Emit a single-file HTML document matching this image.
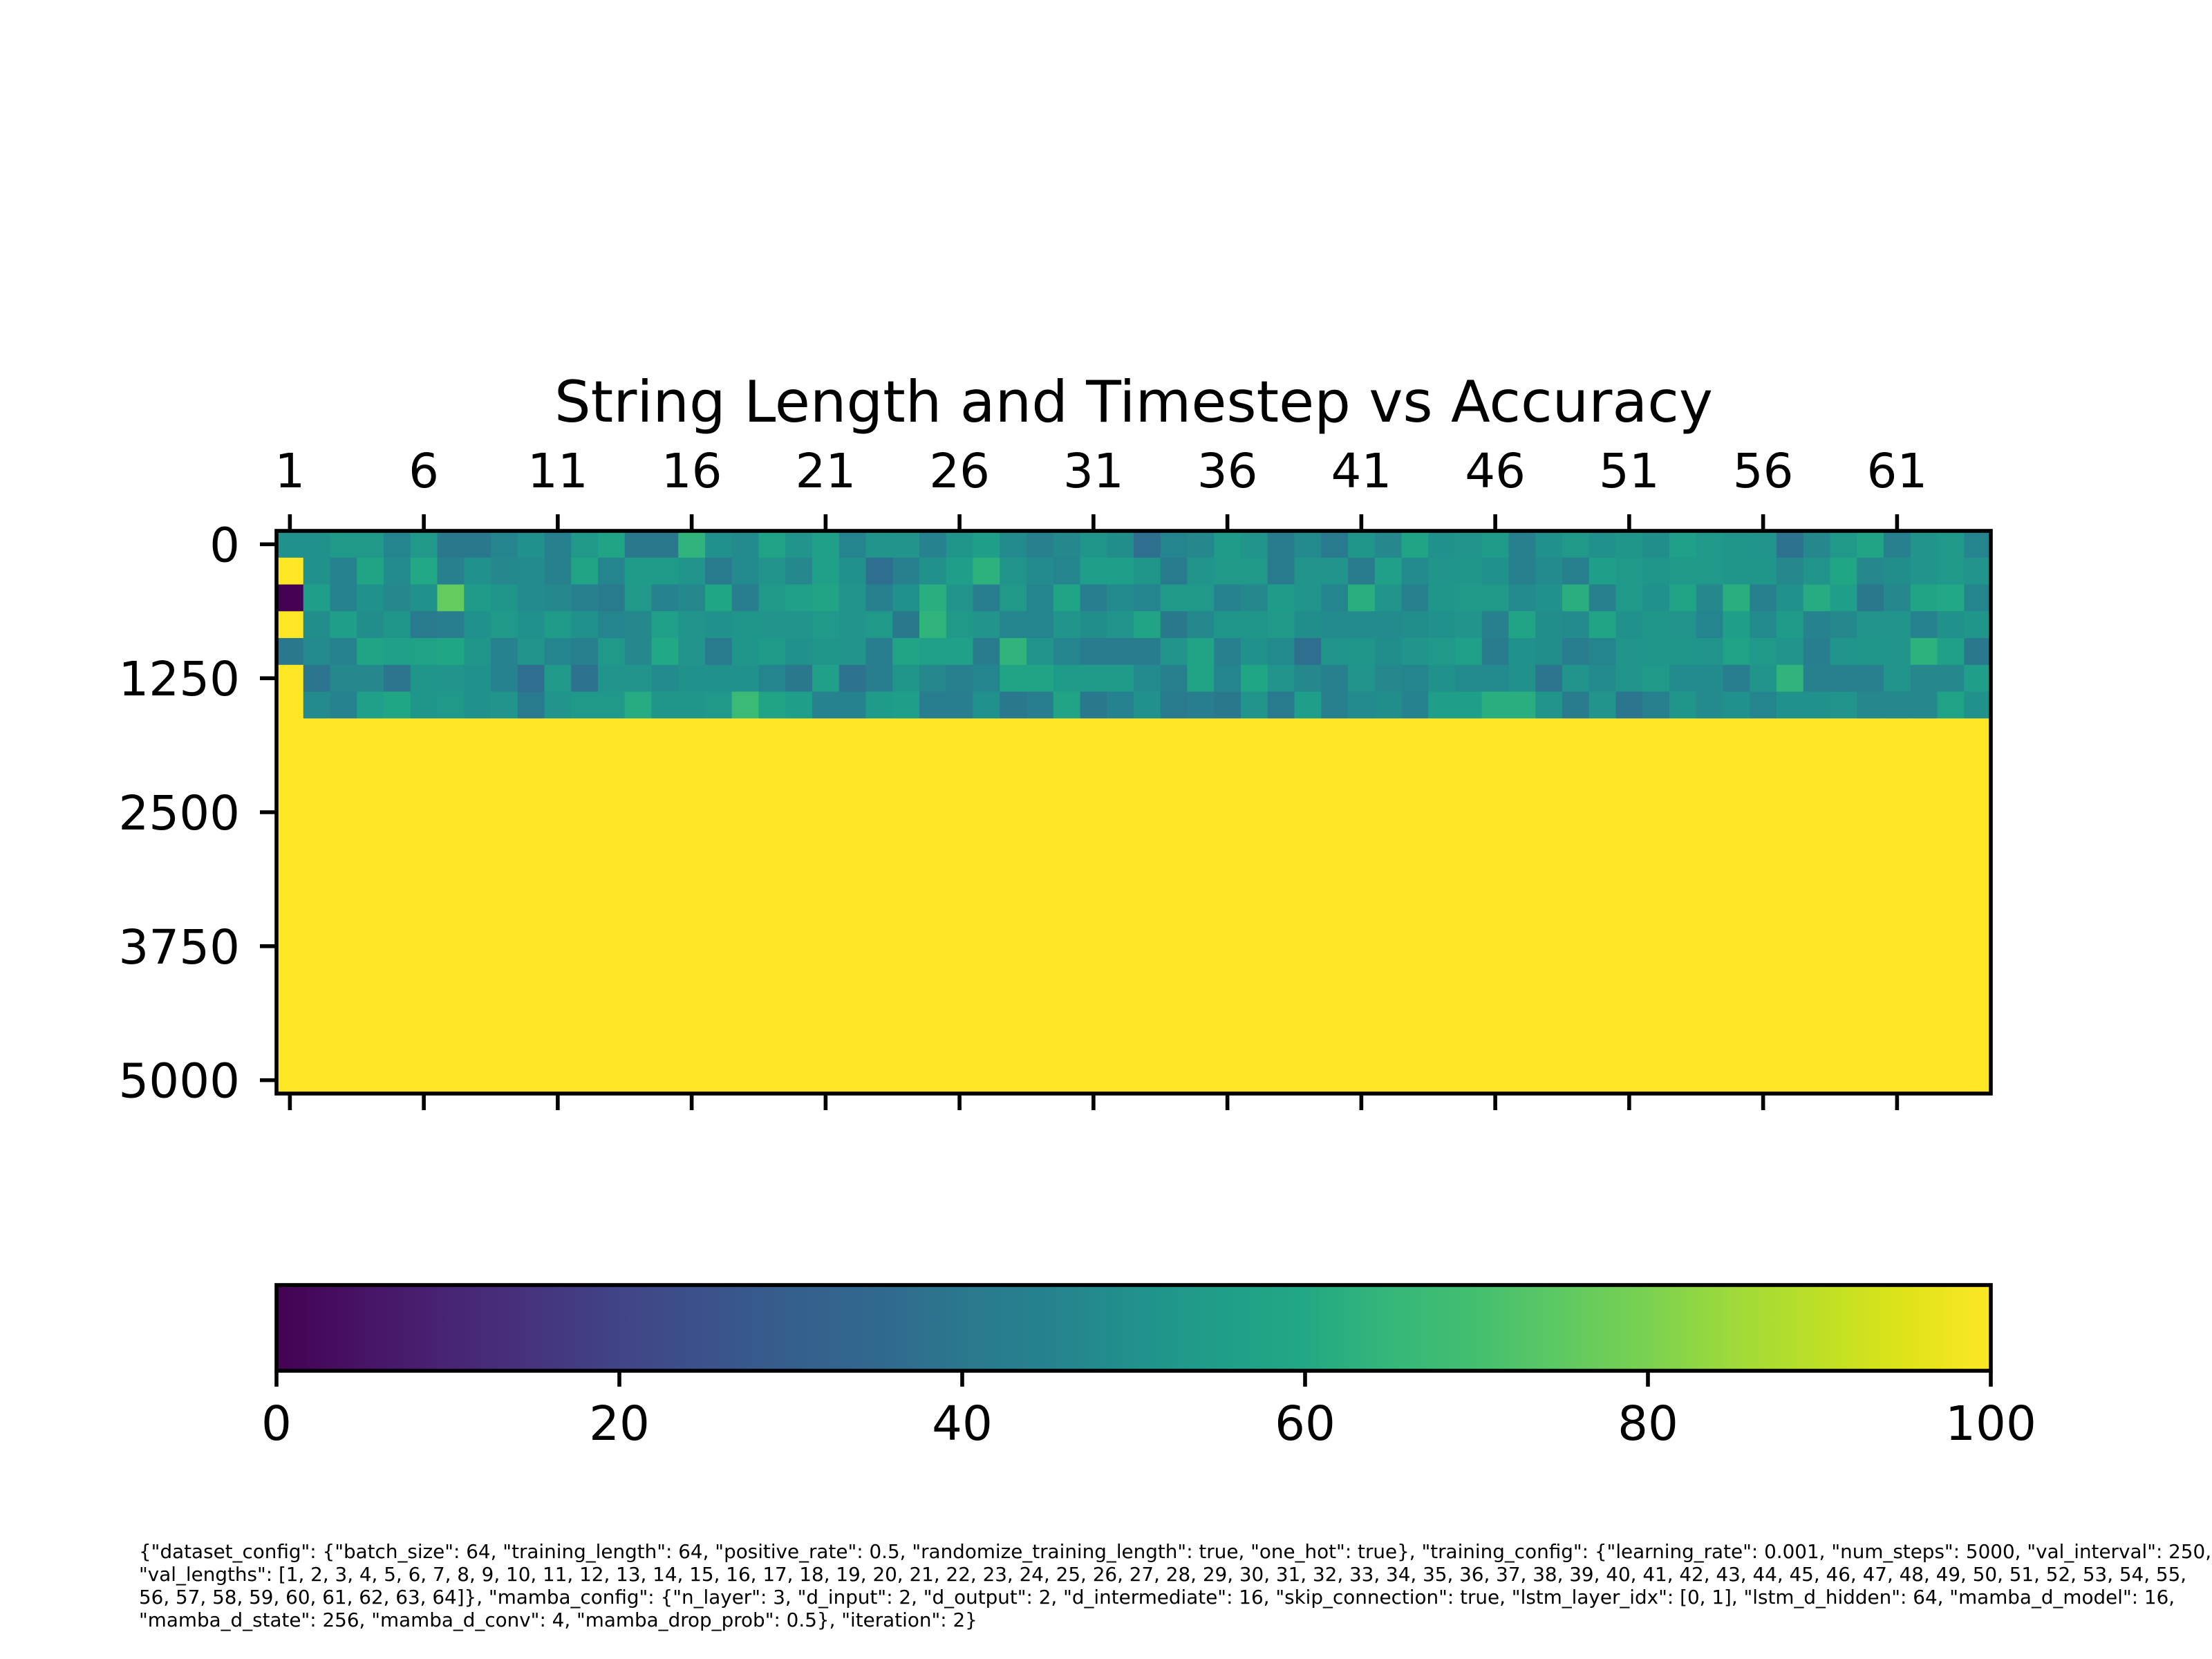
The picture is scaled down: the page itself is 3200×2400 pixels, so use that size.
<!DOCTYPE html>
<html><head><meta charset="utf-8"><style>
html,body{margin:0;padding:0;background:#fff;}
svg{display:block;font-family:"DejaVu Sans","Liberation Sans",sans-serif;}
</style></head>
<body>
<svg id="chart" xmlns="http://www.w3.org/2000/svg" width="3200" height="2400" viewBox="0 0 3200 2400">
<defs>
<linearGradient id="viridis" x1="0" x2="1" y1="0" y2="0">
<stop offset="0" stop-color="#440154"/><stop offset="0.05" stop-color="#471365"/><stop offset="0.1" stop-color="#482475"/><stop offset="0.15" stop-color="#46337f"/><stop offset="0.2" stop-color="#414487"/><stop offset="0.25" stop-color="#3b528b"/><stop offset="0.3" stop-color="#355f8d"/><stop offset="0.35" stop-color="#31688e"/><stop offset="0.4" stop-color="#2a788e"/><stop offset="0.45" stop-color="#26828e"/><stop offset="0.5" stop-color="#21918c"/><stop offset="0.55" stop-color="#1f9e89"/><stop offset="0.6" stop-color="#22a884"/><stop offset="0.65" stop-color="#35b779"/><stop offset="0.7" stop-color="#44bf70"/><stop offset="0.75" stop-color="#5ec962"/><stop offset="0.8" stop-color="#7ad151"/><stop offset="0.85" stop-color="#9fda3a"/><stop offset="0.9" stop-color="#bddf26"/><stop offset="0.95" stop-color="#dfe318"/><stop offset="1" stop-color="#fde725"/>
</linearGradient>
</defs>
<text x="1640" y="610" font-size="83" text-anchor="middle">String Length and Timestep vs Accuracy</text>
<g id="cells"></g>
<g id="axes"></g>
<rect x="400" y="1859" width="2480" height="124" fill="url(#viridis)" stroke="#000" stroke-width="5.6"/>
<g id="cbaxis"></g>
<g font-size="27.8" fill="#000">
<text x="201" y="2254">{"dataset_config": {"batch_size": 64, "training_length": 64, "positive_rate": 0.5, "randomize_training_length": true, "one_hot": true}, "training_config": {"learning_rate": 0.001, "num_steps": 5000, "val_interval": 250,</text>
<text x="201" y="2287">"val_lengths": [1, 2, 3, 4, 5, 6, 7, 8, 9, 10, 11, 12, 13, 14, 15, 16, 17, 18, 19, 20, 21, 22, 23, 24, 25, 26, 27, 28, 29, 30, 31, 32, 33, 34, 35, 36, 37, 38, 39, 40, 41, 42, 43, 44, 45, 46, 47, 48, 49, 50, 51, 52, 53, 54, 55,</text>
<text x="201" y="2320">56, 57, 58, 59, 60, 61, 62, 63, 64]}, "mamba_config": {"n_layer": 3, "d_input": 2, "d_output": 2, "d_intermediate": 16, "skip_connection": true, "lstm_layer_idx": [0, 1], "lstm_d_hidden": 64, "mamba_d_model": 16,</text>
<text x="201" y="2353">"mamba_d_state": 256, "mamba_d_conv": 4, "mamba_drop_prob": 0.5}, "iteration": 2}</text>
</g>
</svg>
<script>
// ---- data ----
const stringLengths = Array.from({length: 64}, (_, i) => i + 1);
const timesteps = [0,250,500,750,1000,1250,1500,1750,2000,2250,2500,2750,3000,3250,3500,3750,4000,4250,4500,4750,5000];
const xTickLabels = ["1","6","11","16","21","26","31","36","41","46","51","56","61"];
const yTickLabels = ["0","1250","2500","3750","5000"];
const cbTickLabels = ["0","20","40","60","80","100"];
const row0 = [50,50,53,53,46,53,40,40,46,50,44,53,58,40,40,64,50,48,57,51,56,46,51,51,45,52,55,48,44,47,52,49,37,46,47,54,51,42,48,41,52,47,58,50,51,54,44,50,53,50,52,49,56,53,52,51,38,47,53,58,44,51,53,46];
const row1 = [100,50,45,58,48,60,44,50,47,48,44,58,46,54,54,51,41,48,51,47,56,50,37,44,50,55,63,51,48,46,55,55,52,41,51,53,53,41,51,51,42,56,48,51,52,50,44,48,44,55,53,52,53,53,52,52,47,51,59,47,49,51,53,51];
const row2 = [0,55,45,50,47,50,76,54,52,48,47,44,41,53,45,47,59,43,53,56,58,51,44,50,62,51,43,53,46,58,43,48,46,53,53,45,47,54,51,46,62,51,44,52,53,53,48,50,62,44,53,50,58,47,62,44,50,61,55,40,47,58,60,46];
const row3 = [100,49,55,49,52,41,43,50,53,50,54,50,46,47,56,51,50,52,51,51,53,51,53,40,64,53,51,46,46,51,49,51,58,40,47,52,52,53,49,48,48,48,49,50,51,44,58,49,48,58,50,52,51,46,55,48,54,45,47,51,51,45,50,52];
const row4 = [40,48,45,58,56,57,59,52,45,51,46,44,53,47,60,51,41,52,54,50,52,51,43,58,56,56,42,64,51,46,42,42,42,51,58,44,50,48,37,51,52,49,51,53,56,42,50,49,43,46,51,52,52,51,57,53,51,43,51,52,51,63,56,40];
const row5 = [100,39,47,47,39,52,51,50,45,37,53,38,51,51,48,50,50,50,46,40,56,38,43,52,47,44,46,58,58,54,54,54,48,44,58,46,59,51,47,44,51,47,46,50,48,48,50,39,51,48,51,53,48,48,43,51,64,44,44,44,51,47,47,55];
const row6 = [100,48,45,56,59,52,53,50,51,41,51,53,53,61,52,52,53,67,58,55,45,45,54,55,43,43,50,40,43,58,40,45,50,41,43,40,51,41,55,44,48,49,45,55,55,62,62,51,42,51,39,44,52,48,50,46,50,50,51,47,47,47,57,50];
const saturatedValue = 100;

// ---- scales ----
const X0 = 400, X1 = 2880, Y0 = 768, Y1 = 1582;
const nCols = stringLengths.length, nRows = timesteps.length;
const cw = (X1 - X0) / nCols, rh = (Y1 - Y0) / nRows;
const xCell = i => X0 + i * cw;
const yCell = r => Y0 + r * rh;
const xCenterOfLength = L => X0 + (stringLengths.indexOf(L) + 0.5) * cw;
const yCenterOfStep = t => Y0 + (timesteps.indexOf(t) + 0.5) * rh;
const CB0 = 400, CB1 = 2880;
const xCb = v => CB0 + (v / 100) * (CB1 - CB0);

const vstops = ["#440154","#471365","#482475","#46337f","#414487","#3b528b","#355f8d","#31688e","#2a788e","#26828e","#21918c","#1f9e89","#22a884","#35b779","#44bf70","#5ec962","#7ad151","#9fda3a","#bddf26","#dfe318","#fde725"];
function hex(h){return [1,3,5].map(i=>parseInt(h.substr(i,2),16));}
function viridis(v){
  let t = Math.max(0, Math.min(1, v / 100)) * (vstops.length - 1);
  let i = Math.min(Math.floor(t), vstops.length - 2), f = t - i;
  let a = hex(vstops[i]), b = hex(vstops[i+1]);
  return "rgb(" + a.map((c,k)=>Math.round(c + (b[k]-c)*f)).join(",") + ")";
}

const NS = "http://www.w3.org/2000/svg";
function mk(tag, attrs, parent){const e=document.createElementNS(NS,tag);for(const k in attrs)e.setAttribute(k,attrs[k]);parent.appendChild(e);return e;}

const rows = [row0,row1,row2,row3,row4,row5,row6];
const cells = document.getElementById("cells");
for (let r = 0; r < nRows; r++) {
  for (let c = 0; c < nCols; c++) {
    let v = r < rows.length ? rows[r][c] : saturatedValue;
    const el = mk("rect", {x: xCell(c), y: yCell(r), width: cw + 0.6, height: rh + 0.6, fill: viridis(v)}, cells);
    
    
  }
}

const axes = document.getElementById("axes");
const frame = mk("rect", {x: X0, y: Y0, width: X1 - X0, height: Y1 - Y0, fill: "none", stroke: "#000", "stroke-width": 5.6}, axes);



xTickLabels.forEach(lbl => {
  const x = xCenterOfLength(+lbl);
  const t1 = mk("line", {x1: x, x2: x, y1: Y0, y2: Y0 - 24, stroke: "#000", "stroke-width": 5.6}, axes);
  
  
  const t2 = mk("line", {x1: x, x2: x, y1: Y1, y2: Y1 + 24, stroke: "#000", "stroke-width": 5.6}, axes);
  
  
  const tx = mk("text", {x: x, y: 705, "font-size": 69, "text-anchor": "middle"}, axes);
  tx.textContent = lbl;
  
  
});

yTickLabels.forEach(lbl => {
  const y = yCenterOfStep(+lbl);
  const t = mk("line", {x1: X0, x2: X0 - 24, y1: y, y2: y, stroke: "#000", "stroke-width": 5.6}, axes);
  
  
  const tx = mk("text", {x: 347, y: y + 25, "font-size": 69, "text-anchor": "end"}, axes);
  tx.textContent = lbl;
  
  
});

const cb = document.getElementById("cbaxis");
cbTickLabels.forEach(lbl => {
  const x = xCb(+lbl);
  const t = mk("line", {x1: x, x2: x, y1: 1983, y2: 2006, stroke: "#000", "stroke-width": 5.6}, cb);
  
  
  const tx = mk("text", {x: x, y: 2083, "font-size": 69, "text-anchor": "middle"}, cb);
  tx.textContent = lbl;
  
  
});
</script>
</body></html>
